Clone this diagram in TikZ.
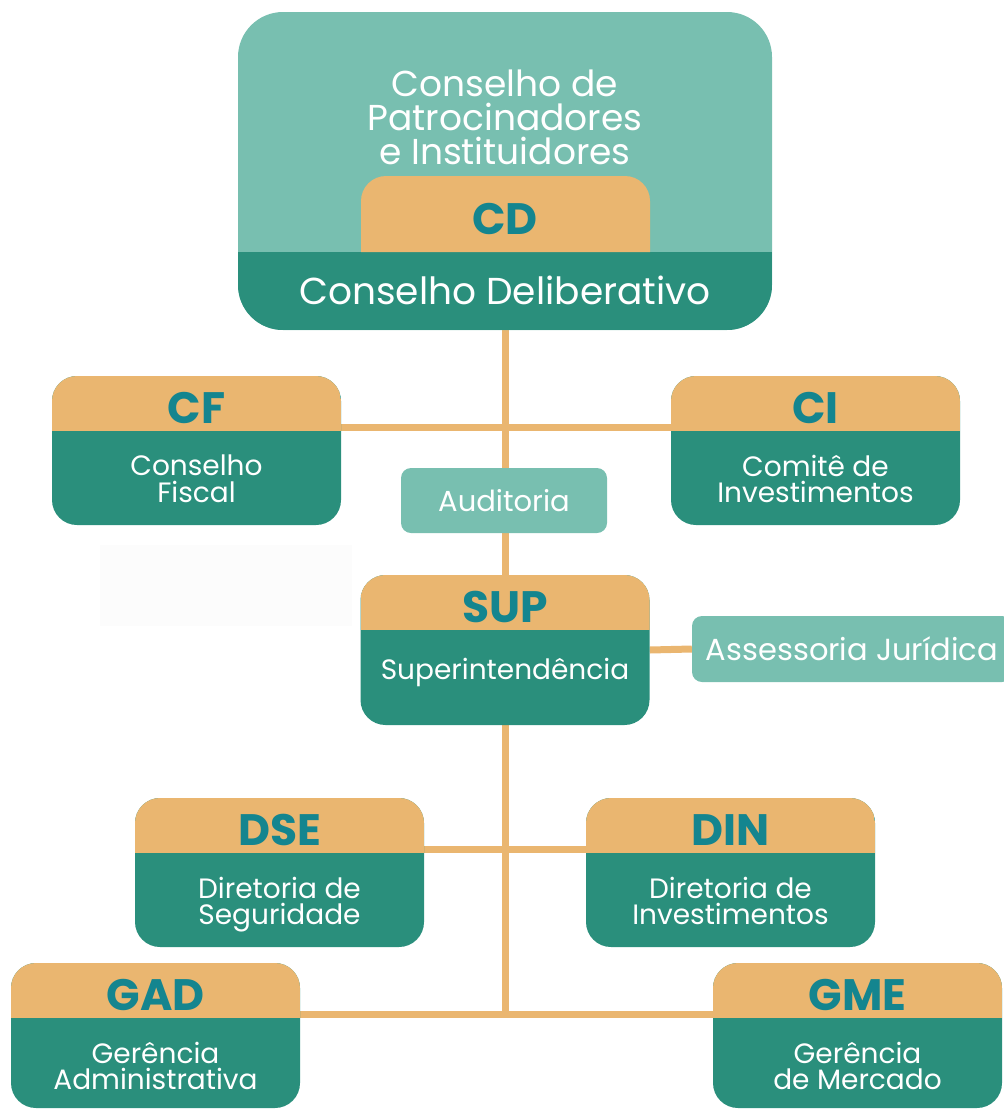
\documentclass[tikz,border=0pt]{standalone}
\usepackage{fontspec}
\setmainfont{Poppins}
\usetikzlibrary{backgrounds}
\definecolor{claro}{HTML}{78BFB0}
\definecolor{escuro}{HTML}{2A8F7C}
\definecolor{laranja}{HTML}{EAB670}
\definecolor{siglacor}{HTML}{14858F}
\definecolor{quase}{HTML}{FCFCFC}
\tikzset{
  caixa/.style={rectangle, rounded corners=25pt, fill=escuro, minimum width=289pt, inner sep=0pt,
    path picture={\fill[laranja, sharp corners] (path picture bounding box.north west) rectangle ([yshift=-55pt]path picture bounding box.north east);}},
  apoio/.style={rectangle, rounded corners=10pt, fill=claro, inner sep=0pt, text=white, font=\fontsize{29}{30}\selectfont},
  linha/.style={draw=laranja, line width=7pt},
  tsigla/.style={text=siglacor, font=\fontsize{44}{44}\selectfont\bfseries},
  tnome/.style={text=white, align=center, font=\fontsize{28}{26.5}\selectfont},
}

\begin{document}
\begin{tikzpicture}[x=1pt, y=-1pt]
  \clip (0,0) rectangle (1004,1109);
  % conselho de patrocinadores / deliberativo
  \node[rectangle, rounded corners=45pt, fill=claro, minimum width=534pt, minimum height=318pt, inner sep=0pt,
    path picture={\fill[escuro, sharp corners] (path picture bounding box.south west) rectangle ([yshift=78pt]path picture bounding box.south east);}]
    (cp) at (505,171) {};
  \fill[laranja] (361,252) [rounded corners=25pt] -- (361,176) -- (650,176) [sharp corners] -- (650,252) -- cycle;
  \node[tnome, font=\fontsize{36}{34}\selectfont] (cp-nome) at (505,117) {Conselho de\\Patrocinadores\\e Instituidores};
  \node[tsigla] (cd-sig) at (505,219) {CD};
  \node[tnome, font=\fontsize{37.5}{37.5}\selectfont] (cd-nome) at (505,290) {Conselho Deliberativo};
  % caixas
  \foreach \id/\x/\y/\h/\dy/\sig/\nome in {
    cf/196.5/450.5/149/107/CF/{Conselho\\Fiscal},
    ci/815.5/450.5/149/107/CI/{Comitê de\\Investimentos},
    sup/505/650/150/98/SUP/{Superintendência},
    dse/279.5/872.5/149/107/DSE/{Diretoria de\\Seguridade},
    din/730.5/872.5/149/107/DIN/{Diretoria de\\Investimentos},
    gad/155.5/1035.5/145/107/GAD/{Gerência\\Administrativa},
    gme/857.5/1035.5/145/107/GME/{Gerência\\de Mercado}}
  {
    \node[caixa, minimum height=\h pt] (\id) at (\x,\y) {};
    \node[tsigla] (\id-sig) at ([yshift=-32pt]\id.north) {\sig};
    \node[tnome] (\id-nome) at ([yshift=-\dy pt]\id.north) {\nome\strut};
  }
  \node[apoio, minimum width=206pt, minimum height=65pt] (aud) at (504,500.5) {Auditoria};
  \node[apoio, minimum width=320pt, minimum height=66pt, font=\fontsize{30.5}{30}\selectfont] (aj) at (852,649) {Assessoria Jurídica};
  \node[fill=quase, minimum width=252pt, minimum height=81pt, inner sep=0pt] (vazio) at (226,585.5) {};
  \coordinate (base) at (505,1018);
  % ligacoes
  \begin{scope}[on background layer]
    \draw[linha] (cp.south) -- (sup.north);
    \draw[linha] ([yshift=-52pt]cf.north east) -- ([yshift=-52pt]ci.north west);
    \draw[linha] (sup.east) -- (aj.west);
    \draw[linha] (sup.south) -- (base);
    \draw[linha] ([yshift=-52pt]dse.north east) -- ([yshift=-52pt]din.north west);
    \draw[linha] ([yshift=-52pt]gad.north east) -- ([yshift=-52pt]gme.north west);
  \end{scope}
\end{tikzpicture}
\end{document}
